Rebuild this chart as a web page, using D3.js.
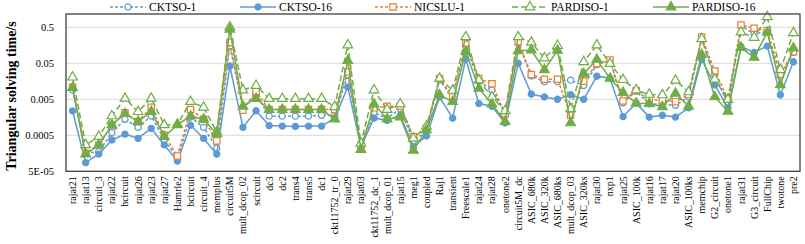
<!DOCTYPE html>
<html><head><meta charset="utf-8">
<script src="https://cdn.jsdelivr.net/npm/d3@7"></script>
<style>body{margin:0;background:#fff}svg{display:block}</style>
</head><body>
<svg id="c" width="805" height="244"></svg>
<script>
const categories = ["rajat21","rajat13","circuit_3","rajat22","hcircuit","rajat26","rajat23","rajat27","Hamrle2","bcircuit","circuit_4","memplus","circuit5M","mult_dcop_02","scircuit","dc3","dc2","trans4","trans5","dc1","ckt11752_tr_0","rajat29","rajat03","ckt11752_dc_1","mult_dcop_01","rajat15","meg1","coupled","Raj1","transient","Freescale1","rajat24","rajat28","onetone2","circuit5M_dc","ASIC_680k","ASIC_320k","ASIC_680ks","mult_dcop_03","ASIC_320ks","rajat30","nxp1","rajat25","ASIC_100k","rajat16","rajat17","rajat20","ASIC_100ks","memchip","G2_circuit","onetone1","rajat31","G3_circuit","FullChip","twotone","pre2"];

const cktso1 = [0.0091,0.00016,0.000175,0.00059,0.00139,0.00083,0.00172,0.00037,0.000115,0.0016,0.00083,0.00022,0.15,0.003,0.007,0.0017,0.0017,0.0017,0.0017,0.0018,0.0018,0.024,0.00025,0.0021,0.0015,0.0027,0.00035,0.00065,0.017,0.0055,0.15,0.016,0.009,0.0021,0.18,0.022,0.0154,0.0154,0.017,0.012,0.046,0.06,0.004,0.0083,0.0037,0.0037,0.0034,0.0058,0.24,0.024,0.0037,0.54,0.33,0.38,0.022,0.1];
const cktso16 = [0.00237,0.000087,0.00015,0.00037,0.00054,0.00041,0.00078,0.00027,0.0000965,0.00095,0.00041,0.00015,0.042,0.00083,0.0024,0.00093,0.0009,0.00088,0.0009,0.0009,0.0015,0.011,0.00024,0.0015,0.0013,0.0018,0.00024,0.00048,0.0058,0.0015,0.066,0.0038,0.0032,0.0011,0.05,0.007,0.0058,0.005,0.0067,0.005,0.022,0.0192,0.00165,0.0039,0.0016,0.0018,0.0016,0.0029,0.064,0.0125,0.0029,0.145,0.1,0.15,0.0066,0.055];
const nicslu1 = [0.0108,0.000158,0.00027,0.00097,0.0021,0.0012,0.003,0.0005,0.000133,0.0026,0.0014,0.00035,0.19,0.0025,0.0083,0.0026,0.0026,0.0026,0.0026,0.0026,0.0026,0.029,0.00026,0.0029,0.0032,0.0032,0.00046,0.00078,0.019,0.0059,0.18,0.019,0.0135,0.00195,0.2,0.0245,0.018,0.018,0.0018,0.016,0.049,0.062,0.0045,0.0087,0.0048,0.0047,0.0043,0.0068,0.27,0.0305,0.0052,0.58,0.47,0.41,0.025,0.105];
const pardiso1 = [0.0205,0.00027,0.00046,0.00172,0.0053,0.00226,0.0053,0.00097,0.001,0.0043,0.003,0.00062,0.51,0.009,0.012,0.0052,0.0052,0.0052,0.0052,0.0052,0.0031,0.16,0.0003,0.009,0.0026,0.0037,0.00041,0.00088,0.019,0.0088,0.27,0.017,0.0058,0.0024,0.27,0.19,0.07,0.156,0.0027,0.055,0.16,0.049,0.0175,0.009,0.0068,0.0066,0.0167,0.008,0.24,0.018,0.0049,0.37,0.26,0.98,0.033,0.35];
const pardiso16 = [0.0105,0.00015,0.00027,0.00097,0.002,0.0012,0.00226,0.00046,0.00097,0.0017,0.0014,0.00054,0.44,0.0032,0.0052,0.0026,0.0026,0.0026,0.0026,0.0026,0.0014,0.059,0.0002,0.0037,0.0014,0.0016,0.00019,0.00071,0.0066,0.0043,0.105,0.01,0.0037,0.0012,0.11,0.117,0.033,0.115,0.0011,0.0257,0.064,0.019,0.0077,0.0039,0.0038,0.0031,0.0073,0.0032,0.087,0.0058,0.0023,0.137,0.073,0.36,0.0125,0.133];

const yTicks = [0.00005,0.0005,0.005,0.05,0.5];
const yTickLabels = ["5E-05","0.0005","0.005","0.05","0.5"];

const BLUE="#5B9BD5", ORANGE="#ED7D31", GREEN="#70AD47";
const series = [
  {name:"CKTSO-1", values:cktso1, color:BLUE, dash:"3,2", sym:d3.symbolCircle, size:30, open:true},
  {name:"CKTSO-16", values:cktso16, color:BLUE, dash:null, sym:d3.symbolCircle, size:30, open:false},
  {name:"NICSLU-1", values:nicslu1, color:ORANGE, dash:"3,2", sym:d3.symbolSquare, size:40, open:true},
  {name:"PARDISO-1", values:pardiso1, color:GREEN, dash:"6,3", sym:d3.symbolTriangle, size:40, open:true},
  {name:"PARDISO-16", values:pardiso16, color:GREEN, dash:null, sym:d3.symbolTriangle, size:40, open:false}
];

const svg = d3.select("#c");
const L=66, R=800, T=14, B=171.3;
const x = d3.scaleBand().domain(categories).range([L,R]);
const cx = d => x(d)+x.bandwidth()/2;
const y = d3.scaleLog().domain([0.00005,0.5]).range([B,27.3]);
const FONT="'Liberation Serif','Times New Roman',serif";

// grid
svg.append("g").selectAll("line").data(yTicks.slice(1)).join("line")
  .attr("x1",L).attr("x2",R).attr("y1",d=>y(d)).attr("y2",d=>y(d))
  .attr("stroke","#d9d9d9").attr("stroke-width",1);

// y tick labels
svg.append("g").selectAll("text").data(yTicks).join("text")
  .attr("x",54).attr("y",d=>y(d)).attr("dy","0.35em")
  .attr("text-anchor","end").attr("font-family",FONT).attr("font-size",10.5)
  .attr("fill","#000").text((d,i)=>yTickLabels[i]);

// y title
svg.append("text").attr("transform","translate(16,96) rotate(-90)")
  .attr("text-anchor","middle").attr("font-family",FONT).attr("font-weight","bold")
  .attr("font-size",14).attr("fill","#000").text("Triangular solving time/s");

// x labels
svg.append("g").selectAll("text").data(categories).join("text")
  .attr("transform",d=>`translate(${cx(d)+3.5},${B+5}) rotate(-90)`)
  .attr("text-anchor","end").attr("font-family",FONT).attr("font-size",10)
  .attr("fill","#000").text(d=>d);

// lines & markers
const line = d3.line().x((d,i)=>cx(categories[i])).y(d=>y(d));
series.forEach(s=>{
  svg.append("path").attr("d",line(s.values)).attr("fill","none")
    .attr("stroke",s.color).attr("stroke-width",1.5)
    .attr("stroke-dasharray",s.dash);
  svg.append("g").selectAll("path").data(s.values).join("path")
    .attr("transform",(d,i)=>`translate(${cx(categories[i])},${y(d)})`)
    .attr("d",d3.symbol().type(s.sym).size(s.size))
    .attr("fill",s.open?"#fff":s.color).attr("stroke",s.color).attr("stroke-width",1.2);
});

// border
svg.append("rect").attr("x",L).attr("y",T).attr("width",R-L).attr("height",B-T)
  .attr("fill","none").attr("stroke","#404040").attr("stroke-width",1.3);

// legend
const legX=[110,240,375,512,653];
series.forEach((s,i)=>{
  const g=svg.append("g").attr("transform",`translate(${legX[i]},7)`);
  g.append("line").attr("x1",0).attr("x2",36).attr("y1",0).attr("y2",0)
    .attr("stroke",s.color).attr("stroke-width",1.5).attr("stroke-dasharray",s.dash);
  g.append("path").attr("transform","translate(18,0)")
    .attr("d",d3.symbol().type(s.sym).size(s.size))
    .attr("fill",s.open?"#fff":s.color).attr("stroke",s.color).attr("stroke-width",1.2);
  g.append("text").attr("x",39).attr("y",0).attr("dy","0.35em")
    .attr("font-family",FONT).attr("font-size",11.5).attr("fill","#000").text(s.name);
});
</script>
</body></html>
